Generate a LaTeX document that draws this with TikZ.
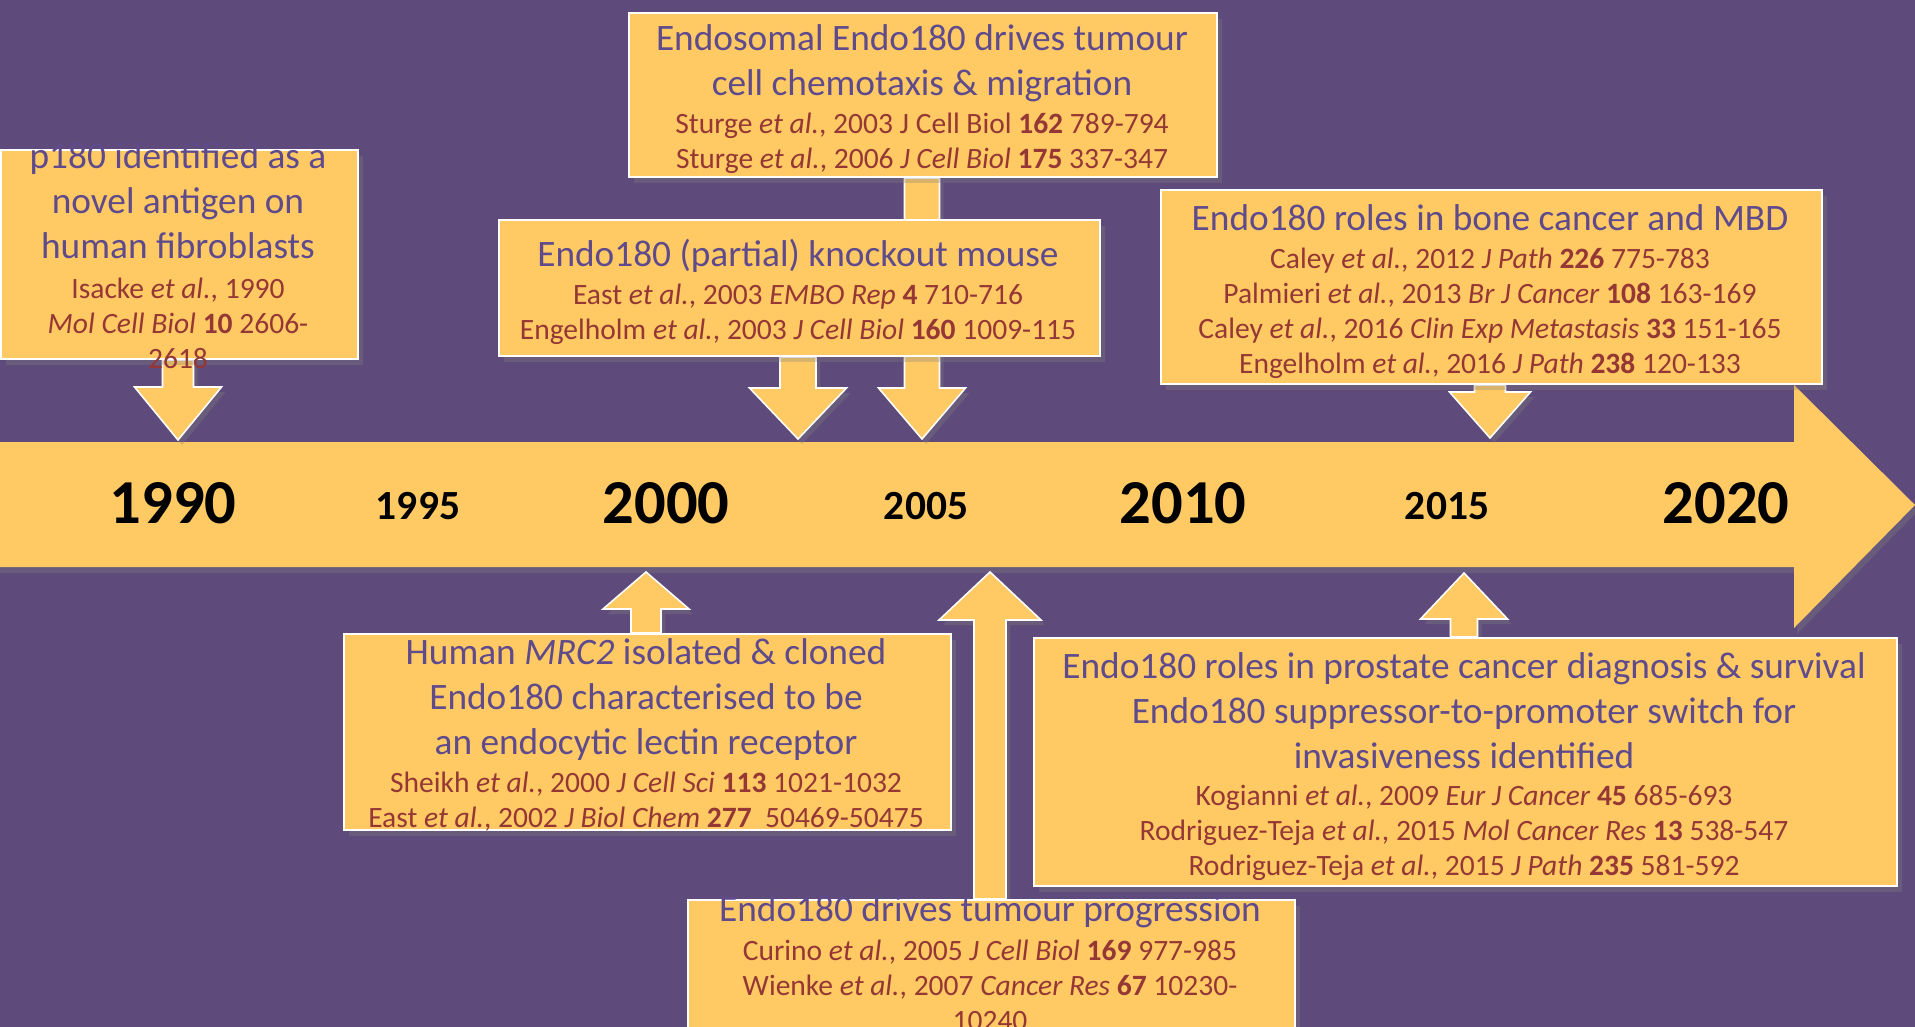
\documentclass[tikz,border=0pt]{standalone}
\usepackage{fontspec}
\setmainfont{Carlito}
\usepackage{tikz}
\usetikzlibrary{calc,shadows,positioning}
\definecolor{bgpurple}{HTML}{5F4B7B}
\definecolor{gold}{HTML}{FFCA64}
\definecolor{ttlpurple}{HTML}{5F4B8B}
\definecolor{citered}{HTML}{953735}
\pgfdeclarelayer{bg}
\pgfdeclarelayer{arr}
\pgfsetlayers{bg,arr,main}
\tikzset{%
  % boxes
  panel/.style={draw=white, line width=0.6pt, fill=gold, inner sep=0pt, anchor=north west,
    drop shadow={shadow xshift=0.5mm, shadow yshift=-0.6mm, opacity=0.3}},
  % texts
  ttl/.style={align=center, inner sep=0pt, anchor=north, text=ttlpurple,
    font=\fontsize{10.62}{12.8}\selectfont},
  cite/.style={align=center, inner sep=0pt, anchor=north, text=citered,
    font=\fontsize{8.4}{9.95}\selectfont},
  % years
  bigyear/.style={anchor=base, inner sep=0pt, font=\fontsize{17.8}{20}\selectfont\bfseries},
  smallyear/.style={anchor=base, inner sep=0pt, font=\fontsize{11.8}{14}\selectfont\bfseries},
  % arrows
  blockarr/.style={fill=gold, draw=white, line width=0.45pt,
    drop shadow={shadow xshift=0.4mm, shadow yshift=-0.5mm, opacity=0.3}},
  band/.style={fill=gold, drop shadow={shadow xshift=0.3mm, shadow yshift=-0.6mm, opacity=0.3}},
}
\newcommand{\timearrow}[5]{%
  % #1 = box anchor, #2 = tip
  % #3 = half shaft, #4 = half head, #5 = head length (negative = up)
  \draw[blockarr] let \p1=(#1), \p2=(#2) in
    ({\x2-#3},\y1) -- ({\x2-#3},{\y2+(#5)}) -- ({\x2-#4},{\y2+(#5)}) -- (\p2)
    -- ({\x2+#4},{\y2+(#5)}) -- ({\x2+#3},{\y2+(#5)}) -- ({\x2+#3},\y1) -- cycle;
}

\begin{document}
\begin{tikzpicture}[x=0.1mm, y=-0.1mm]
  \useasboundingbox (0,0) rectangle (1915,1027);
  \begin{pgfonlayer}{bg}
    \fill[bgpurple] (0,0) rectangle (1915,1027);
    \path[band] (-20,442) -- (1794,442) -- (1794,385) -- (1915,505)
      -- (1794,628) -- (1794,567) -- (-20,567) -- cycle;
  \end{pgfonlayer}

  % Years
  \node[bigyear] (y1990) at (173,523) {1990};
  \node[smallyear] (y1995) at (418,519) {1995};
  \node[bigyear] (y2000) at (666,523) {2000};
  \node[smallyear] (y2005) at (926,519) {2005};
  \node[bigyear] (y2010) at (1183,523) {2010};
  \node[smallyear] (y2015) at (1447,519) {2015};
  \node[bigyear] (y2020) at (1726,523) {2020};

  % Boxes above
  \node[panel, minimum width=35.7mm, minimum height=20.9mm] (boxA) at (0,149) {};
  \node[panel, minimum width=58.8mm, minimum height=16.4mm] (boxB) at (628,12) {};
  \node[panel, minimum width=60.1mm, minimum height=13.6mm] (boxC) at (498,219) {};
  \node[panel, minimum width=66.1mm, minimum height=19.4mm] (boxD) at (1160,189) {};

  % Boxes below
  \node[panel, minimum width=60.7mm, minimum height=19.6mm] (boxE) at (343,633) {};
  \node[panel, minimum width=86.3mm, minimum height=24.8mm] (boxF) at (1033,637) {};
  \node[panel, minimum width=60.7mm, minimum height=12.8mm] (boxG) at (687,899) {};

  % Texts
  \node[ttl] (ttlA) at (178,142) {p180 identified as a\\novel antigen on\\human fibroblasts};
  \node[cite] (citeA) at (178,277) {Isacke \textit{et al.}, 1990\\\textit{Mol Cell Biol} \textbf{10} 2606-\\2618};

  \node[ttl] (ttlB) at (922,24) {Endosomal Endo180 drives tumour\\cell chemotaxis \& migration};
  \node[cite] (citeB) at (922,112) {Sturge \textit{et al.}, 2003 J Cell Biol \textbf{162} 789-794\\
    Sturge \textit{et al.}, 2006 \textit{J Cell Biol} \textbf{175} 337-347};

  \node[ttl] (ttlC) at (798,238) {Endo180 (partial) knockout mouse};
  \node[cite] (citeC) at (798,283) {East \textit{et al.}, 2003 \textit{EMBO Rep} \textbf{4} 710-716\\
    Engelholm \textit{et al.}, 2003 \textit{J Cell Biol} \textbf{160} 1009-115};

  \node[ttl] (ttlD) at (1490,204) {Endo180 roles in bone cancer and MBD};
  \node[cite] (citeD) at (1490,247) {Caley \textit{et al.}, 2012 \textit{J Path} \textbf{226} 775-783\\
    Palmieri \textit{et al.}, 2013 \textit{Br J Cancer} \textbf{108} 163-169\\
    Caley \textit{et al.}, 2016 \textit{Clin Exp Metastasis} \textbf{33} 151-165\\
    Engelholm \textit{et al.}, 2016 \textit{J Path} \textbf{238} 120-133};

  \node[ttl] (ttlE) at (646,638) {Human \textit{MRC2} isolated \& cloned\\Endo180 characterised to be\\an endocytic lectin receptor};
  \node[cite] (citeE) at (646,771) {Sheikh \textit{et al.}, 2000 \textit{J Cell Sci} \textbf{113} 1021-1032\\
    East \textit{et al.}, 2002 \textit{J Biol Chem} \textbf{277}~~50469-50475};

  \node[ttl] (ttlF) at (1464,652) {Endo180 roles in prostate cancer diagnosis \& survival\\
    Endo180 suppressor-to-promoter switch for\\invasiveness identified};
  \node[cite] (citeF) at (1464,784) {Kogianni \textit{et al.}, 2009 \textit{Eur J Cancer} \textbf{45} 685-693\\
    Rodriguez-Teja \textit{et al.}, 2015 \textit{Mol Cancer Res} \textbf{13} 538-547\\
    Rodriguez-Teja \textit{et al.}, 2015 \textit{J Path} \textbf{235} 581-592};

  \node[ttl] (ttlG) at (990,895) {Endo180 drives tumour progression};
  \node[cite] (citeG) at (990,939) {Curino \textit{et al.}, 2005 \textit{J Cell Biol} \textbf{169} 977-985\\
    Wienke \textit{et al.}, 2007 \textit{Cancer Res} \textbf{67} 10230-\\10240};

  % Arrow tips on the timeline
  \coordinate (tipA) at (178,440);
  \coordinate (tipB) at (922,439);
  \coordinate (tipC) at (798,439);
  \coordinate (tipD) at (1490,438);
  \coordinate (tipE) at (646,572);
  \coordinate (tipF) at (1464,573);
  \coordinate (tipG) at (990,572);

  % Links
  \begin{pgfonlayer}{arr}
    \timearrow{boxA.south}{tipA}{1.55mm}{4.35mm}{5.3mm}
    \timearrow{boxB.south}{tipB}{1.75mm}{4.35mm}{5.1mm}
    \timearrow{boxC.south}{tipC}{1.8mm}{4.85mm}{5.1mm}
    \timearrow{boxD.south}{tipD}{1.55mm}{4.05mm}{4.6mm}
    \timearrow{boxE.north}{tipE}{1.5mm}{4.3mm}{-3.7mm}
    \timearrow{boxF.north}{tipF}{1.35mm}{4.35mm}{-4.6mm}
    \timearrow{boxG.north}{tipG}{1.6mm}{5.1mm}{-4.8mm}
  \end{pgfonlayer}
\end{tikzpicture}
\end{document}
